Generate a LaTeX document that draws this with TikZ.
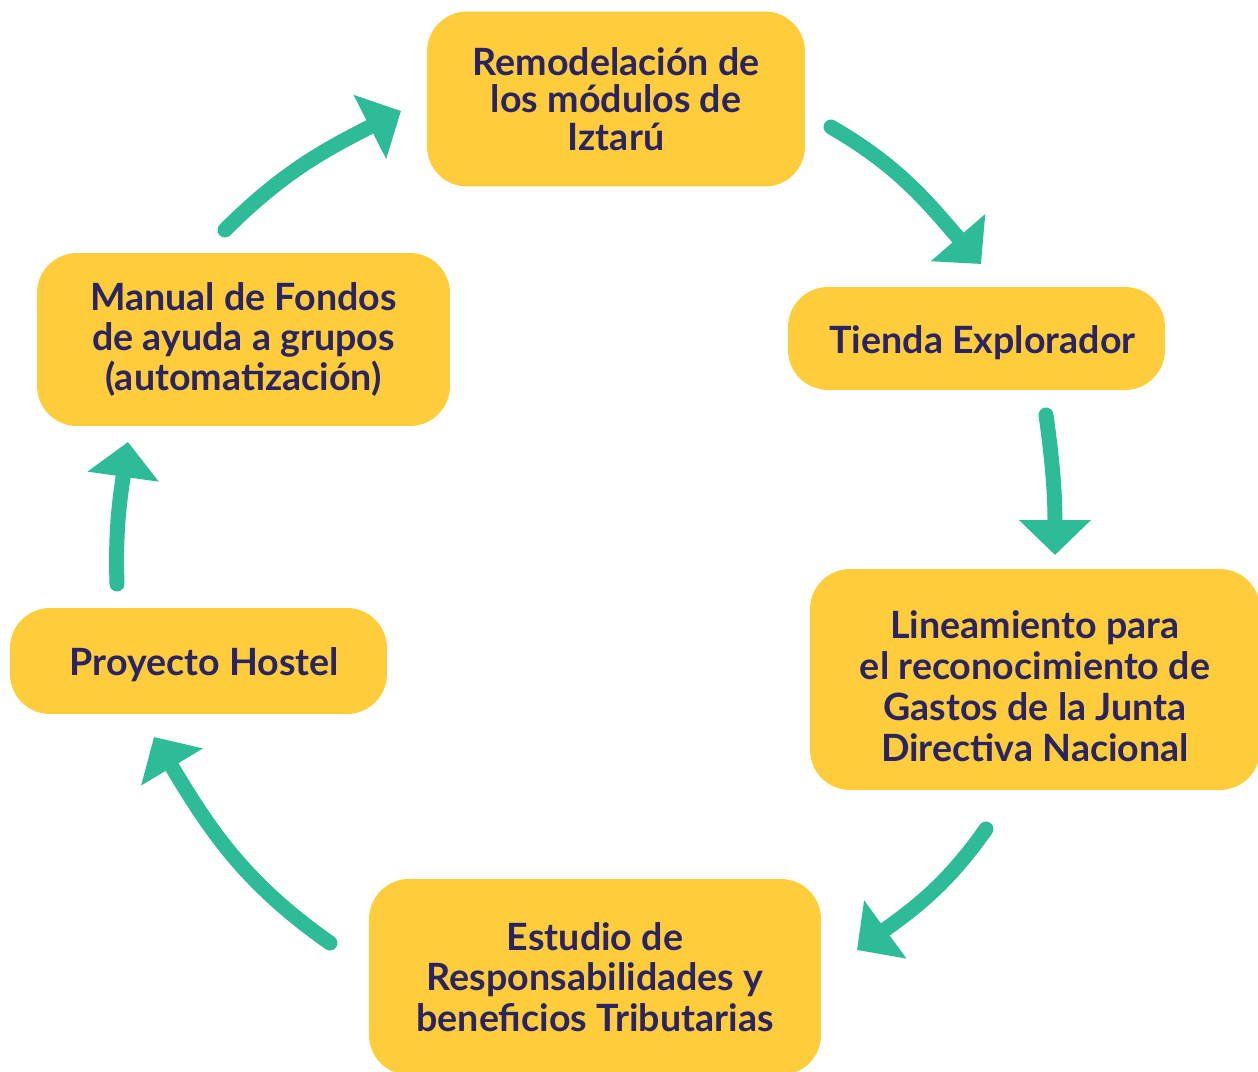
\documentclass[tikz,border=0pt]{standalone}
\usepackage{fontspec}
\setmainfont{Lato}
\usepackage{xcolor}
\usetikzlibrary{arrows.meta}

\definecolor{boxyellow}{HTML}{FFCD3B}
\definecolor{textnavy}{HTML}{2A2462}
\definecolor{arrowteal}{HTML}{2EBB98}

\begin{document}
\begin{tikzpicture}[x=0.02cm, y=0.02cm,
    paso/.style={fill=boxyellow, rounded corners=0.8cm, text=textnavy, align=center,
        inner sep=0pt, font=\fontsize{21.4}{23}\selectfont\bfseries},
    flecha/.style={arrowteal, line width=0.3cm, line cap=round,
        -{Triangle[length=0.7cm, width=1.4cm]}}]
    \useasboundingbox (0,0) rectangle (1258,-1072);

    % Boxes
    \node[paso, minimum width=7.56cm, minimum height=3.5cm,
        font=\fontsize{21.4}{21.4}\selectfont\bfseries] (remodelacion) at (616,-99)
        {Remodelación de\\los módulos de\\Iztarú};
    \node[paso, minimum width=7.54cm, minimum height=2.06cm] (tienda) at (976.5,-338.5)
        {\raisebox{-0.08cm}[\height][\depth]{\hspace{0.24cm}Tienda Explorador}};
    \node[paso, minimum width=9cm, minimum height=4.42cm,
        font=\fontsize{21.4}{23.4}\selectfont\bfseries] (lineamiento) at (1035,-679.5)
        {\raisebox{-0.24cm}[\height][\depth]{\begin{tabular}{@{}c@{}}Lineamiento para\\el reconocimiento de\\Gastos de la Junta\\Directiva Nacional\end{tabular}}};
    \node[paso, minimum width=9.04cm, minimum height=3.92cm] (estudio) at (595,-977)
        {Estudio de\\Responsabilidades y\\beneficios Tributarias};
    \node[paso, minimum width=7.54cm, minimum height=2.12cm] (hostel) at (198.5,-661)
        {\raisebox{-0.08cm}[\height][\depth]{\hspace{0.24cm}Proyecto Hostel}};
    \node[paso, minimum width=8.26cm, minimum height=3.46cm] (manual) at (243.5,-339.5)
        {Manual de Fondos\\de ayuda a grupos\\(automatización)};

    % Arrow ends
    \coordinate (f1a) at (225,-230);  \coordinate (f1b) at (401,-111);
    \coordinate (f2a) at (831,-127);  \coordinate (f2b) at (981,-264);
    \coordinate (f3a) at (1046,-415); \coordinate (f3b) at (1055,-555);
    \coordinate (f4a) at (986,-829);  \coordinate (f4b) at (857,-950);
    \coordinate (f5a) at (330,-943);  \coordinate (f5b) at (154,-737);
    \coordinate (f6a) at (117,-584);  \coordinate (f6b) at (128,-442);

    % Arrows
    \draw[flecha] (f1a) to[out=45, in=207] (f1b);
    \draw[flecha] (f2a) to[out=-30, in=131] (f2b);
    \draw[flecha] (f3a) to[out=-82, in=90] (f3b);
    \draw[flecha] (f4a) to[out=235, in=36] (f4b);
    \draw[flecha] (f5a) to[out=145, in=-59] (f5b);
    \draw[flecha] (f6a) to[out=92, in=-98] (f6b);

\end{tikzpicture}
\end{document}
